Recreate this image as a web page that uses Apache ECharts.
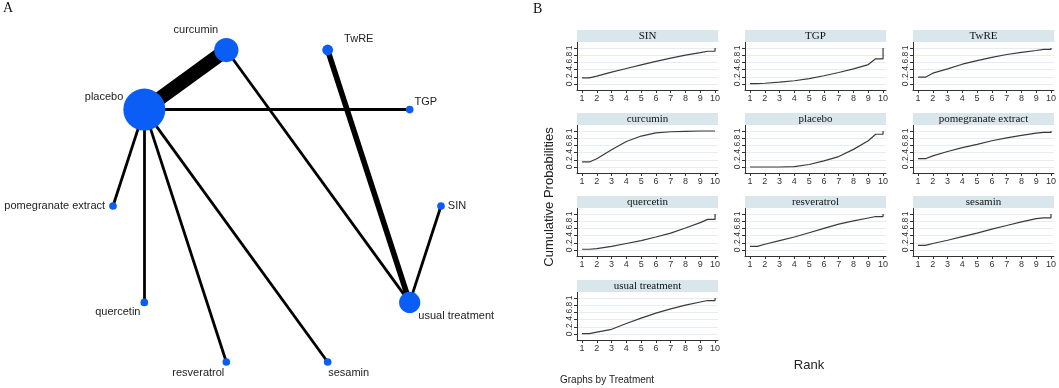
<!DOCTYPE html>
<html>
<head>
<meta charset="utf-8">
<style>
  html, body { margin: 0; padding: 0; background: #fff; }
  #chart { width: 1059px; height: 388px; }
</style>
<script src="https://cdn.jsdelivr.net/npm/echarts@6/dist/echarts.min.js"></script>
</head>
<body>
<div id="chart"></div>
<script>
// ---- Panel A: network of comparisons (nodes clockwise from 3 o'clock) ----
var treatments = ['SIN', 'usual treatment', 'sesamin', 'resveratrol', 'quercetin',
  'pomegranate extract', 'placebo', 'curcumin', 'TwRE', 'TGP'];
var nodeWeight = [30, 230, 30, 30, 30, 30, 900, 300, 60, 30];
var comparisons = [
  ['placebo', 'curcumin', 5],
  ['placebo', 'TGP', 1],
  ['placebo', 'pomegranate extract', 1],
  ['placebo', 'quercetin', 1],
  ['placebo', 'resveratrol', 1],
  ['placebo', 'sesamin', 1],
  ['curcumin', 'usual treatment', 1],
  ['TwRE', 'usual treatment', 2],
  ['SIN', 'usual treatment', 1]
];

// ---- Panel B: cumulative ranking probabilities ----
var panelOrder = ['SIN', 'TGP', 'TwRE', 'curcumin', 'placebo', 'pomegranate extract',
  'quercetin', 'resveratrol', 'sesamin', 'usual treatment'];
var rankX = [1, 1.5, 2, 3, 4, 5, 6, 7, 8, 9, 9.5, 10, 10];
var cumSIN         = [0.17, 0.17, 0.22, 0.33, 0.43, 0.53, 0.63, 0.72, 0.80, 0.87, 0.91, 0.91, 1];
var cumTGP         = [0.01, 0.01, 0.02, 0.05, 0.09, 0.15, 0.23, 0.32, 0.42, 0.54, 0.70, 0.70, 1];
var cumTwRE        = [0.19, 0.19, 0.30, 0.42, 0.55, 0.65, 0.74, 0.82, 0.88, 0.93, 0.96, 0.96, 1];
var cumCurcumin    = [0.14, 0.14, 0.23, 0.48, 0.71, 0.86, 0.95, 0.98, 0.99, 1, 1, 1, 1];
var cumPlacebo     = [0, 0, 0, 0, 0.01, 0.07, 0.17, 0.29, 0.49, 0.73, 0.91, 0.91, 1];
var cumPomegranate = [0.23, 0.23, 0.31, 0.43, 0.54, 0.63, 0.73, 0.81, 0.88, 0.94, 0.96, 0.96, 1];
var cumQuercetin   = [0.02, 0.02, 0.04, 0.10, 0.18, 0.26, 0.36, 0.47, 0.61, 0.76, 0.85, 0.85, 1];
var cumResveratrol = [0.10, 0.10, 0.16, 0.26, 0.36, 0.48, 0.60, 0.72, 0.81, 0.89, 0.93, 0.93, 1];
var cumSesamin     = [0.13, 0.13, 0.18, 0.27, 0.37, 0.47, 0.58, 0.68, 0.78, 0.87, 0.89, 0.89, 1];
var cumUsual       = [0.01, 0.01, 0.05, 0.13, 0.29, 0.44, 0.58, 0.70, 0.80, 0.89, 0.93, 0.93, 1];
var panelValues = [cumSIN, cumTGP, cumTwRE, cumCurcumin, cumPlacebo, cumPomegranate,
  cumQuercetin, cumResveratrol, cumSesamin, cumUsual];
var xTicks = [1, 2, 3, 4, 5, 6, 7, 8, 9, 10];
var yTicks = [0, 0.2, 0.4, 0.6, 0.8, 1];
var yTickLabels = ['0', '.2', '.4', '.6', '.8', '1'];

(function() {
  var sans = '"Liberation Sans", Arial, sans-serif';
  var serif = '"Liberation Serif", "Times New Roman", serif';
  var ink = '#222';

  // label placement around the circle
  var labelPlace = {
    'SIN': { position: 'right', offset: [-2, 0] },
    'usual treatment': { position: 'right', offset: [-7, 14] },
    'sesamin': { position: 'bottom', offset: [21, -3] },
    'resveratrol': { position: 'bottom', offset: [-28, -3] },
    'quercetin': { position: 'left', offset: [5, 10] },
    'pomegranate extract': { position: 'left', offset: [1, 0] },
    'placebo': { position: 'left', offset: [5, -13] },
    'curcumin': { position: 'left', offset: [9, -20] },
    'TwRE': { position: 'right', offset: [6, -11] },
    'TGP': { position: 'right', offset: [-4, -8] }
  };

  var nodes = treatments.map(function(t, i) {
    return {
      name: t,
      value: [1, i],
      symbolSize: 1.4 * Math.sqrt(nodeWeight[i]),
      label: labelPlace[t]
    };
  });
  var links = comparisons.map(function(c) {
    return { source: c[0], target: c[1], lineStyle: { width: 2.8 * c[2] } };
  });

  // small multiples layout
  var colLeft = [577, 745, 913];
  var rowTop = [30, 113, 196, 280];
  var panelW = 141, headH = 12, plotH = 48;

  var grids = [], xAxes = [], yAxes = [], series = [], graphics = [];
  panelOrder.forEach(function(name, i) {
    var left = colLeft[i % 3];
    var top = rowTop[Math.floor(i / 3)];
    grids.push({ left: left, top: top + headH, width: panelW, height: plotH });
    xAxes.push({
      gridIndex: i, type: 'value', min: 0.66, max: 10.2,
      axisLine: { show: true, onZero: false, lineStyle: { color: '#333', width: 1 } },
      axisTick: { show: true, customValues: xTicks, length: 3, lineStyle: { color: '#333' } },
      axisLabel: { customValues: xTicks, fontSize: 9, color: '#333', margin: 4, fontFamily: sans },
      splitLine: { show: false }
    });
    yAxes.push({
      gridIndex: i, type: 'value', min: -0.167, max: 1.167,
      axisLine: { show: true, onZero: false, lineStyle: { color: '#333', width: 1 } },
      axisTick: { show: true, customValues: yTicks, length: 3, lineStyle: { color: '#333' } },
      axisLabel: {
        customValues: yTicks, rotate: 90, fontSize: 8.5, color: '#333', margin: 3, fontFamily: sans,
        formatter: function(v) { return yTickLabels[yTicks.indexOf(v)]; }
      },
      splitLine: { show: true, lineStyle: { color: '#e6ecef', width: 1 } }
    });
    series.push({
      type: 'line', xAxisIndex: i, yAxisIndex: i,
      data: rankX.map(function(x, k) { return [x, panelValues[i][k]]; }),
      symbol: 'none', smooth: false,
      lineStyle: { color: '#3a3a3a', width: 1.2 },
      z: 3
    });
    graphics.push({
      type: 'rect', shape: { x: left, y: top, width: panelW, height: headH },
      style: { fill: '#d9e6ec' }, z: 1
    });
    graphics.push({
      type: 'text', x: left + panelW / 2, y: top + headH / 2 + 0.5,
      style: { text: name, align: 'center', verticalAlign: 'middle', font: '11px ' + serif, fill: '#111' },
      z: 2
    });
  });

  series.push({
    type: 'graph', coordinateSystem: 'polar', polarIndex: 0,
    data: nodes, links: links,
    itemStyle: { color: '#0a5ef5' },
    lineStyle: { color: '#000', opacity: 1, curveness: 0 },
    label: { show: true, fontSize: 11, color: ink, fontFamily: sans },
    emphasis: { disabled: true },
    z: 2
  });

  graphics.push(
    { type: 'text', x: 3, y: 1, style: { text: 'A', font: '14px ' + serif, fill: '#111' } },
    { type: 'text', x: 533, y: 2, style: { text: 'B', font: '14px ' + serif, fill: '#111' } },
    { type: 'text', x: 549, y: 197, rotation: Math.PI / 2,
      style: { text: 'Cumulative Probabilities', align: 'center', verticalAlign: 'middle', font: '13px ' + sans, fill: ink } },
    { type: 'text', x: 809, y: 365,
      style: { text: 'Rank', align: 'center', verticalAlign: 'middle', font: '13px ' + sans, fill: ink } },
    { type: 'text', x: 560, y: 380,
      style: { text: 'Graphs by Treatment', align: 'left', verticalAlign: 'middle', font: '10px ' + sans, fill: ink } }
  );

  var chart = echarts.init(document.getElementById('chart'), null, { renderer: 'canvas' });
  chart.setOption({
    animation: false,
    backgroundColor: '#fff',
    polar: { center: [277, 206], radius: 164 },
    angleAxis: { type: 'category', data: treatments, boundaryGap: false, startAngle: 0, clockwise: true, show: false },
    radiusAxis: { type: 'value', min: 0, max: 1, show: false },
    grid: grids,
    xAxis: xAxes,
    yAxis: yAxes,
    series: series,
    graphic: graphics
  });

  window.addEventListener('resize', function() { chart.resize(); });
})();
</script>
</body>
</html>
